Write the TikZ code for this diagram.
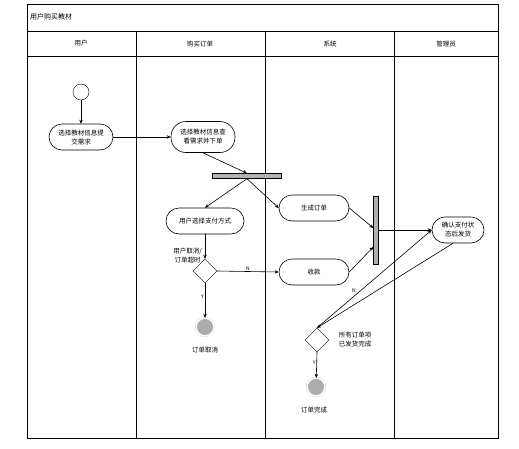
\documentclass[tikz,border=0pt]{standalone}
\usepackage{fontspec}
\setmainfont{Noto Sans CJK SC}
\usetikzlibrary{shapes.geometric, arrows.meta, positioning}

\begin{document}
\begin{tikzpicture}[x=1pt, y=-1pt,
    act/.style={draw, rounded corners=13pt, align=center, font=\fontsize{6.5}{9}\selectfont, inner sep=1pt, minimum height=26pt, semithick},
    bar/.style={draw, fill=gray!60, inner sep=0pt},
    decision/.style={draw, diamond, aspect=1, minimum size=24pt, inner sep=0pt},
    startnode/.style={draw, circle, minimum size=16pt, inner sep=0pt},
    endnode/.style={circle, fill=gray!65, draw=gray!35, double=white, double distance=1.2pt, minimum size=18pt, inner sep=0pt},
    lbl/.style={font=\fontsize{6.5}{9}\selectfont, align=center, inner sep=1pt},
    arrow/.style={semithick, -{Stealth[length=4pt, width=3.5pt]}}
]

\useasboundingbox (0,0) rectangle (519,448);

% swimlanes
\draw[thick] (27,4) rectangle (498,438);
\draw[thick] (27,31) -- (498,31);
\draw[thick] (27,56) -- (498,56);
\foreach \x in {136,265,394}
    \draw[thick] (\x,31) -- (\x,438);
\node[lbl, anchor=west, font=\fontsize{7}{9}\selectfont] (title) at (29,17) {用户购买教材};
\node[lbl] (laneuser) at (81,43) {用户};
\node[lbl] (laneorder) at (200,44) {购买订单};
\node[lbl] (lanesys) at (330,44) {系统};
\node[lbl] (laneadmin) at (446,44) {管理员};

% nodes
\node[startnode] (start) at (81,92) {};
\node[act, minimum width=64pt] (req) at (81,137) {选择教材信息提\\交需求};
\node[act, minimum width=64pt, minimum height=31pt, rounded corners=15pt] (order) at (203,137) {选择教材信息查\\看需求并下单};
\node[bar, minimum width=69pt, minimum height=5pt] (fork) at (247,176) {};
\node[act, minimum width=78pt] (pay) at (205,221) {用户选择支付方式};
\node[act, minimum width=70pt] (gen) at (314,208) {生成订单};
\node[act, minimum width=70pt] (recv) at (314,272) {收款};
\node[bar, minimum width=5pt, minimum height=68pt] (join) at (376,230) {};
\node[act, minimum width=52pt] (confirm) at (458,230) {确认支付状\\态后发货};
\node[decision] (cancelq) at (205,271) {};
\node[lbl, anchor=south east] (cancellbl) at (203,264) {用户取消/\\订单超时};
\node[endnode] (cancelend) at (205,327) {};
\node[lbl] (cancelname) at (205,350) {订单取消};
\node[decision] (doneq) at (317,340) {};
\node[lbl] (donelbl) at (355,340) {所有订单项\\已发货完成};
\node[endnode] (doneend) at (316,387) {};
\node[lbl] (donename) at (314,410) {订单完成};

% flows
\draw[arrow] (start) -- (req);
\draw[arrow] (req) -- (order);
\draw[arrow] (order.south) -- (fork.north);
\draw[arrow] (fork.south) -- (pay.north);
\draw[arrow] (fork.south) -- (gen.west);
\draw[arrow] (gen.east) -- ([yshift=2pt]join.west);
\draw[arrow] (recv.east) -- ([yshift=-17pt]join.west);
\draw[arrow] (join.east) -- (confirm.west);
\draw[arrow] (pay.south) -- (cancelq.north);
\draw[arrow] (cancelq.east) -- node[lbl, above, font=\fontsize{5}{6}\selectfont] {N} (recv.west);
\draw[arrow] (cancelq.south) -- node[lbl, left, pos=0.4, font=\fontsize{5}{6}\selectfont] {Y} (cancelend);
\draw[arrow] ([xshift=-5pt]confirm.south) -- (doneq.north);
\draw[arrow] (doneq.north) -- node[lbl, pos=0.35, above left, font=\fontsize{5}{6}\selectfont] {N} (confirm.west);
\draw[arrow] (doneq.south) -- node[lbl, left, pos=0.4, font=\fontsize{5}{6}\selectfont] {Y} (doneend);

\end{tikzpicture}
\end{document}
